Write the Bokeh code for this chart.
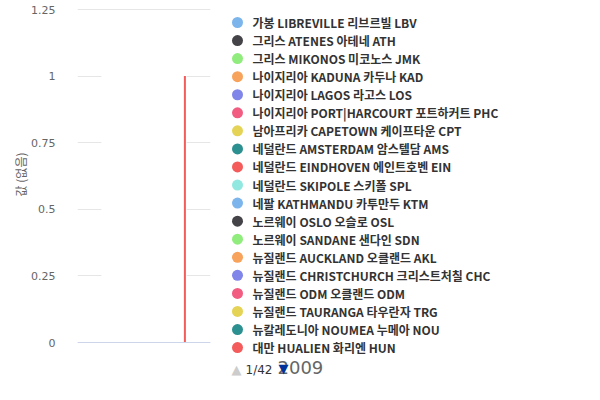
from bokeh.plotting import figure
from bokeh.layouts import row
from bokeh.models import FixedTicker, Range1d, Title
from bokeh.core.properties import value
from bokeh.embed import file_html
from bokeh.resources import INLINE

# series shown on legend page 1/42
series_names = [
    "가봉 LIBREVILLE 리브르빌 LBV",
    "그리스 ATENES 아테네 ATH",
    "그리스 MIKONOS 미코노스 JMK",
    "나이지리아 KADUNA 카두나 KAD",
    "나이지리아 LAGOS 라고스 LOS",
    "나이지리아 PORT|HARCOURT 포트하커트 PHC",
    "남아프리카 CAPETOWN 케이프타운 CPT",
    "네덜란드 AMSTERDAM 암스텔담 AMS",
    "네덜란드 EINDHOVEN 에인트호벤 EIN",
    "네덜란드 SKIPOLE 스키폴 SPL",
    "네팔 KATHMANDU 카투만두 KTM",
    "노르웨이 OSLO 오슬로 OSL",
    "노르웨이 SANDANE 샌다인 SDN",
    "뉴질랜드 AUCKLAND 오클랜드 AKL",
    "뉴질랜드 CHRISTCHURCH 크리스트처칠 CHC",
    "뉴질랜드 ODM 오클랜드 ODM",
    "뉴질랜드 TAURANGA 타우란자 TRG",
    "뉴칼레도니아 NOUMEA 누메아 NOU",
    "대만 HUALIEN 화리엔 HUN",
]
palette = ["#7cb5ec", "#434348", "#90ed7d", "#f7a35c", "#8085e9",
           "#f15c80", "#e4d354", "#2b908f", "#f45b5b", "#91e8e1"]
series_colors = [palette[i % len(palette)] for i in range(len(series_names))]

years = [2009]
hualien_values = [1]
legend_page = "1/42"

y_ticks = [0, 0.25, 0.5, 0.75, 1, 1.25]
y_tick_labels = ["0", "0.25", "0.5", "0.75", "1", "1.25"]

# plot area in page pixels: top tick at 9, zero at 342, frame runs on to 392
frame_top, top_tick_px, zero_px, frame_bottom = 4, 9, 342, 392
px_per_unit = (zero_px - top_tick_px) / y_ticks[-1]
y_max = y_ticks[-1] + (top_tick_px - frame_top) / px_per_unit
y_min = -(frame_bottom - zero_px) / px_per_unit
x_lo, x_hi = 2008.5, 2009.5

# ---- chart ----
p = figure(width=215, height=400, output_backend="svg", toolbar_location=None,
           x_range=Range1d(x_lo, x_hi), y_range=Range1d(y_min, y_max),
           x_axis_location=None,
           min_border_left=77, min_border_top=frame_top, min_border_right=5,
           min_border_bottom=400 - frame_bottom)
p.outline_line_color = None

col_w = 0.63
thin_w = 0.015
# the column slot of 2009 (white) and the HUALIEN series on its edge
p.vbar(x=years, top=hualien_values, width=col_w, fill_color="white",
       line_color="white", line_width=1.5)
p.vbar(x=[y + col_w / 2 - thin_w / 2 for y in years], top=hualien_values,
       width=thin_w, fill_color=series_colors[-1], line_color=None)
# x axis line at zero
p.segment(x0=[x_lo], y0=[0], x1=[x_hi], y1=[0], line_color="#ccd6eb",
          line_width=1)

p.yaxis.ticker = FixedTicker(ticks=y_ticks)
p.yaxis.major_label_overrides = {t: l for t, l in zip(y_ticks, y_tick_labels)}
p.yaxis.axis_line_color = None
p.yaxis.major_tick_line_color = None
p.yaxis.minor_tick_line_color = None
p.yaxis.major_label_standoff = 16
p.yaxis.major_label_text_font = "DejaVu Sans"
p.yaxis.major_label_text_font_size = "11px"
p.yaxis.major_label_text_color = "#666666"
p.add_layout(Title(text="값 (없음)", align="right",
                   offset=152 - frame_top, standoff=0,
                   text_font="Noto Sans CJK KR", text_font_size="12px",
                   text_font_style="normal", text_color="#666666"), "left")

p.xgrid.visible = False
p.ygrid.ticker = FixedTicker(ticks=y_ticks)
p.ygrid.grid_line_color = "#e6e6e6"

# ---- legend panel (page pixel coordinates) ----
lg = figure(width=385, height=400, output_backend="svg", toolbar_location=None,
            x_range=Range1d(215, 600), y_range=Range1d(frame_bottom, frame_top),
            x_axis_location=None, y_axis_location=None,
            min_border_left=0, min_border_right=0, min_border_top=frame_top,
            min_border_bottom=400 - frame_bottom)
lg.grid.visible = False
lg.outline_line_color = None

row_top, row_step = 22, 18.06
row_y = [row_top + i * row_step for i in range(len(series_names))]
lg.scatter(x=[237] * len(series_names), y=row_y, marker="circle", size=11,
           fill_color=series_colors, line_color=None)
lg.text(x=[252] * len(series_names), y=row_y, text=series_names,
        text_font=value("Noto Sans CJK KR"), text_font_style="bold",
        text_font_size="12px", text_color="#333333", text_baseline="middle")

nav_y = 369
lg.text(x=[236], y=[nav_y], text=["▲"], text_font=value("DejaVu Sans"),
        text_font_size="13px", text_color="#cccccc", text_align="center",
        text_baseline="middle")
lg.text(x=[245], y=[nav_y], text=[legend_page], text_font=value("DejaVu Sans"),
        text_font_size="12px", text_color="#333333", text_baseline="middle")
lg.text(x=[277], y=[nav_y - 2], text=[str(years[0])],
        text_font=value("DejaVu Sans"), text_font_size="18px",
        text_color="#666666", text_baseline="middle")
lg.text(x=[283], y=[nav_y - 1], text=["▼"], text_font=value("DejaVu Sans"),
        text_font_size="13px", text_color="#003399", text_align="center",
        text_baseline="middle")

open("out.html", "w").write(file_html(row(p, lg), INLINE))
